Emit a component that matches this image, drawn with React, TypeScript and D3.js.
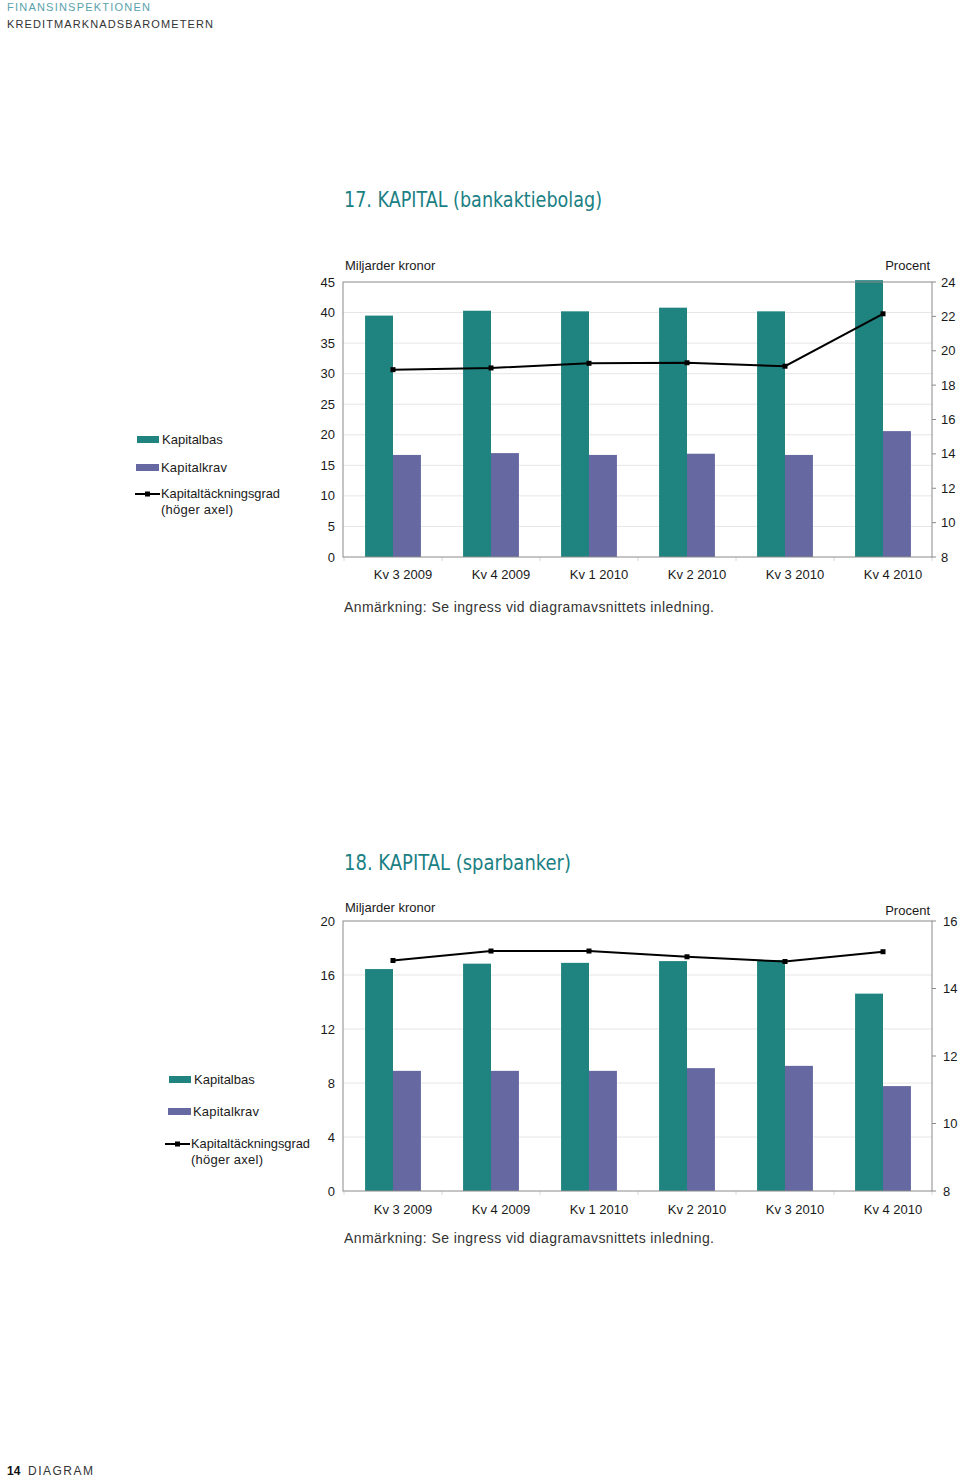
import React from "react";
import * as d3 from "d3";

const categories = ["Kv 3 2009", "Kv 4 2009", "Kv 1 2010", "Kv 2 2010", "Kv 3 2010", "Kv 4 2010"];

// Chart 17: bankaktiebolag
const bankKapitalbas = [39.5, 40.3, 40.2, 40.8, 40.2, 45.3];
const bankKapitalkrav = [16.7, 17.0, 16.7, 16.9, 16.7, 20.6];
const bankTackningsgrad = [18.9, 19.0, 19.27, 19.3, 19.1, 22.15];
const bankLeftTicks = [0, 5, 10, 15, 20, 25, 30, 35, 40, 45];
const bankRightTicks = [8, 10, 12, 14, 16, 18, 20, 22, 24];

// Chart 18: sparbanker
const sparKapitalbas = [16.44, 16.84, 16.9, 17.03, 17.1, 14.62];
const sparKapitalkrav = [8.9, 8.9, 8.9, 9.1, 9.27, 7.77];
const sparTackningsgrad = [14.83, 15.11, 15.11, 14.94, 14.8, 15.09];
const sparLeftTicks = [0, 4, 8, 12, 16, 20];
const sparRightTicks = [8, 10, 12, 14, 16];

const seriesNames = ["Kapitalbas", "Kapitalkrav"];
const legendLine1 = "Kapitaltäckningsgrad";
const legendLine2 = "(höger axel)";

const TEAL = "#1f8380";
const PURPLE = "#6668a2";
const TEXT = "#1a1a1a";
const TITLE = "#1b7f84";
const FONT = "'Liberation Sans', Arial, sans-serif";
const NARROW = "'Liberation Sans Narrow', 'DejaVu Sans Condensed', 'Liberation Sans', sans-serif";

type ChartProps = {
  title: string;
  titleY: number;
  titleLen: number;
  top: number;
  bottom: number;
  left: number;
  right: number;
  base: number[];
  req: number[];
  ratio: number[];
  leftTicks: number[];
  rightTicks: number[];
  unitY: number;
  procentY: number;
  xLabelY: number;
  noteY: number;
  legend: { swX: number; lineX: number; y1: number; y2: number; y3: number; textX1: number; textX3: number };
  rightLabelX: number;
};

function Chart(p: ChartProps) {
  const x0 = d3
    .scaleBand<string>()
    .domain(categories)
    .range([p.left + 1, p.right])
    .paddingInner(0.43)
    .paddingOuter(0.215);
  const x1 = d3.scaleBand<string>().domain(seriesNames).range([0, x0.bandwidth()]);
  const yL = d3
    .scaleLinear()
    .domain([p.leftTicks[0], p.leftTicks[p.leftTicks.length - 1]])
    .range([p.bottom, p.top]);
  const yR = d3
    .scaleLinear()
    .domain([p.rightTicks[0], p.rightTicks[p.rightTicks.length - 1]])
    .range([p.bottom, p.top]);
  const line = d3
    .line<number>()
    .x((_, i) => (x0(categories[i]) as number) + x0.bandwidth() / 2)
    .y((d) => yR(d));
  const step = x0.step();
  const bounds = categories.map((c) => (x0(c) as number) - (step - x0.bandwidth()) / 2);
  bounds.push(p.right);

  const lg = p.legend;
  return (
    <g>
      <text x={p.left + 1} y={p.titleY} fill={TITLE} fontFamily={NARROW} fontSize={21} textLength={p.titleLen} lengthAdjust="spacingAndGlyphs">
        {p.title}
      </text>
      {/* gridlines */}
      {p.leftTicks.slice(1, -1).map((t) => (
        <line key={"g" + t} x1={p.left} x2={p.right} y1={yL(t)} y2={yL(t)} stroke="#e6e6e6" strokeWidth={1} />
      ))}
      {/* x ticks */}
      {bounds.map((b, i) => (
        <line key={"xt" + i} x1={b} x2={b} y1={p.bottom} y2={p.bottom + 4} stroke="#d8d8d8" />
      ))}
      {/* bars */}
      {categories.map((c, i) => (
        <g key={c}>
          <rect
            x={(x0(c) as number) + (x1("Kapitalbas") as number)}
            y={yL(p.base[i])}
            width={x1.bandwidth()}
            height={p.bottom - yL(p.base[i])}
            fill={TEAL}
          />
          <rect
            x={(x0(c) as number) + (x1("Kapitalkrav") as number)}
            y={yL(p.req[i])}
            width={x1.bandwidth()}
            height={p.bottom - yL(p.req[i])}
            fill={PURPLE}
          />
        </g>
      ))}
      {/* frame */}
      <rect x={p.left} y={p.top} width={p.right - p.left} height={p.bottom - p.top} fill="none" stroke="#8a8a8a" strokeWidth={1} />
      {/* line */}
      <path d={line(p.ratio) || ""} fill="none" stroke="#000" strokeWidth={2} />
      {p.ratio.map((r, i) => (
        <rect
          key={"m" + i}
          x={(x0(categories[i]) as number) + x0.bandwidth() / 2 - 2.5}
          y={yR(r) - 2.5}
          width={5}
          height={5}
          fill="#000"
        />
      ))}
      {/* left labels */}
      {p.leftTicks.map((t) => (
        <text key={"l" + t} x={p.left - 8} y={yL(t) + 4.5} textAnchor="end" fontFamily={FONT} fontSize={13} fill={TEXT}>
          {t}
        </text>
      ))}
      {/* right ticks */}
      {p.rightTicks.map((t) => (
        <g key={"r" + t}>
          <line x1={p.right} x2={p.right + 4} y1={yR(t)} y2={yR(t)} stroke="#8a8a8a" />
          <text x={p.rightLabelX} y={yR(t) + 4.5} fontFamily={FONT} fontSize={13} fill={TEXT}>
            {t}
          </text>
        </g>
      ))}
      <text x={p.left + 2} y={p.unitY} fontFamily={FONT} fontSize={13} fill={TEXT}>
        Miljarder kronor
      </text>
      <text x={p.right - 2} y={p.procentY} textAnchor="end" fontFamily={FONT} fontSize={13} fill={TEXT}>
        Procent
      </text>
      {categories.map((c) => (
        <text
          key={"xl" + c}
          x={(x0(c) as number) + x0.bandwidth() / 2 + 10}
          y={p.xLabelY}
          textAnchor="middle"
          fontFamily={FONT}
          fontSize={13}
          fill={TEXT}
        >
          {c}
        </text>
      ))}
      <text x={p.left + 1} y={p.noteY} fontFamily={FONT} fontSize={14} fill="#333" textLength={370} lengthAdjust="spacing">
        Anmärkning: Se ingress vid diagramavsnittets inledning.
      </text>
      {/* legend */}
      <rect x={lg.swX} y={lg.y1 - 4} width={22} height={7} fill={TEAL} />
      <text x={lg.textX1} y={lg.y1 + 4} fontFamily={FONT} fontSize={13} fill={TEXT}>
        {seriesNames[0]}
      </text>
      <rect x={lg.swX - 1} y={lg.y2 - 4} width={23} height={7} fill={PURPLE} />
      <text x={lg.textX1 - 1} y={lg.y2 + 4} fontFamily={FONT} fontSize={13} fill={TEXT} textLength={66} lengthAdjust="spacing">
        {seriesNames[1]}
      </text>
      <line x1={lg.lineX} x2={lg.lineX + 25} y1={lg.y3} y2={lg.y3} stroke="#000" strokeWidth={2} />
      <rect x={lg.lineX + 10} y={lg.y3 - 2.5} width={5} height={5} fill="#000" />
      <text x={lg.textX3} y={lg.y3 + 4} fontFamily={FONT} fontSize={13} fill={TEXT} textLength={119} lengthAdjust="spacingAndGlyphs">
        {legendLine1}
      </text>
      <text x={lg.textX3} y={lg.y3 + 20} fontFamily={FONT} fontSize={13} fill={TEXT} textLength={72} lengthAdjust="spacing">
        {legendLine2}
      </text>
    </g>
  );
}

export default function App() {
  return (
    <svg
      width={960}
      height={1477}
      viewBox="0 0 960 1477"
      style={{ position: "absolute", left: 0, top: 0, background: "#fff" }}
    >
      <rect x={0} y={0} width={960} height={1477} fill="#fff" />
      <text x={7} y={11} fontFamily={FONT} fontSize={11} fill="#5aa2ab" textLength={143} lengthAdjust="spacing">
        FINANSINSPEKTIONEN
      </text>
      <text x={7} y={28} fontFamily={FONT} fontSize={11} fill="#333" textLength={206} lengthAdjust="spacing">
        KREDITMARKNADSBAROMETERN
      </text>

      <Chart
        title="17. KAPITAL (bankaktiebolag)"
        titleY={207}
        titleLen={258}
        top={282}
        bottom={557}
        left={343}
        right={932}
        base={bankKapitalbas}
        req={bankKapitalkrav}
        ratio={bankTackningsgrad}
        leftTicks={bankLeftTicks}
        rightTicks={bankRightTicks}
        unitY={270}
        procentY={270}
        xLabelY={579}
        noteY={612}
        rightLabelX={941}
        legend={{ swX: 137, lineX: 135, y1: 440, y2: 468, y3: 494, textX1: 162, textX3: 161 }}
      />
      <Chart
        title="18. KAPITAL (sparbanker)"
        titleY={870}
        titleLen={227}
        top={921}
        bottom={1191}
        left={343}
        right={932}
        base={sparKapitalbas}
        req={sparKapitalkrav}
        ratio={sparTackningsgrad}
        leftTicks={sparLeftTicks}
        rightTicks={sparRightTicks}
        unitY={912}
        procentY={915}
        xLabelY={1214}
        noteY={1243}
        rightLabelX={943}
        legend={{ swX: 169, lineX: 165, y1: 1080, y2: 1112, y3: 1144, textX1: 194, textX3: 191 }}
      />

      <text x={7} y={1475} fontFamily={FONT} fontSize={12} fill="#111" fontWeight="bold">
        14
      </text>
      <text x={28} y={1475} fontFamily={FONT} fontSize={12} fill="#333" textLength={65} lengthAdjust="spacing">
        DIAGRAM
      </text>
    </svg>
  );
}
